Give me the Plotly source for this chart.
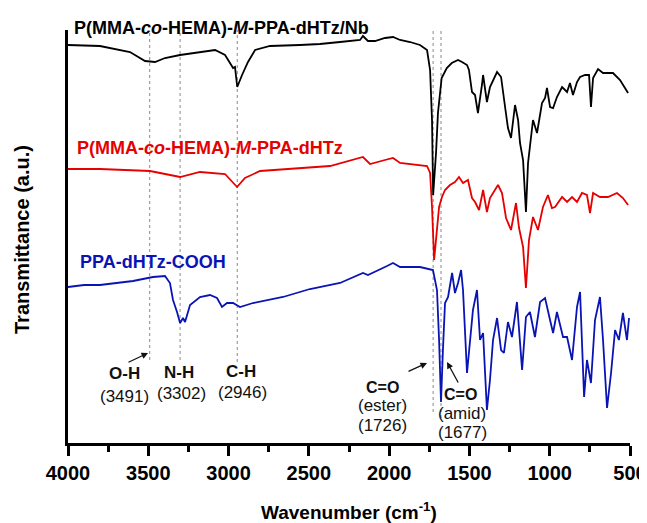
import plotly.graph_objects as go

# ---------------- data ----------------
black_wn = [4000, 3801, 3614, 3520, 3458, 3396, 3302, 3178, 3084, 3022, 2991, 2972, 2960, 2946,
            2916, 2879, 2835, 2742, 2555, 2431, 2306, 2181, 2163, 2132, 2088, 2026, 1976, 1932,
            1870, 1808, 1764, 1745, 1733, 1726, 1708, 1696, 1673, 1641, 1610, 1571, 1546, 1515,
            1503, 1484, 1465, 1447, 1422, 1415, 1391, 1372, 1328, 1303, 1278, 1260, 1241, 1216,
            1197, 1185, 1166, 1148, 1135, 1116, 1104, 1079, 1048, 1029, 1017, 998, 979, 955, 923,
            892, 874, 855, 830, 811, 780, 755, 743, 730, 699, 668, 606, 562, 512]
black_t = [398, 397, 391, 382, 381, 385, 388, 391, 393, 388, 380, 375, 376, 356,
           368, 381, 393, 397, 398, 399, 401, 403, 407, 402, 402, 405, 406, 403,
           401, 398, 393, 373, 323, 248, 290, 330, 365, 375, 380, 383, 381, 378,
           373, 351, 348, 330, 358, 368, 341, 356, 371, 366, 336, 315, 305, 338,
           323, 300, 283, 231, 280, 310, 323, 310, 340, 345, 355, 336, 335, 346, 356,
           351, 360, 348, 361, 366, 368, 368, 336, 365, 374, 370, 370, 363, 350]

red_wn = [4000, 3801, 3489, 3302, 3178, 3022, 2947, 2898, 2804, 2368, 2163, 2119, 2026, 1976,
          1932, 1764, 1745, 1733, 1720, 1702, 1689, 1671, 1652, 1621, 1590, 1565, 1540, 1509,
          1484, 1465, 1440, 1415, 1391, 1372, 1322, 1297, 1272, 1241, 1210, 1191, 1166, 1148,
          1129, 1104, 1073, 1042, 1011, 986, 967, 923, 892, 861, 830, 799, 768, 749, 730, 687,
          637, 581, 544, 512]
red_t = [274, 274, 272, 266, 271, 269, 256, 265, 272, 277, 286, 279, 283, 285,
         280, 277, 270, 236, 183, 210, 236, 246, 253, 258, 261, 266, 260, 263,
         245, 241, 233, 253, 231, 245, 258, 250, 225, 213, 240, 215, 196, 155,
         203, 226, 213, 236, 248, 235, 236, 246, 241, 246, 241, 250, 248, 230, 250, 246,
         246, 250, 245, 238]

blue_wn = [4000, 3900, 3801, 3700, 3595, 3471, 3396, 3365, 3346, 3321, 3302, 3284, 3271, 3240,
           3178, 3116, 3072, 3041, 3010, 2972, 2929, 2848, 2661, 2493, 2368, 2306, 2163, 2132,
           2013, 1976, 1932, 1808, 1727, 1702, 1689, 1677, 1665, 1652, 1633, 1608, 1590, 1571,
           1552, 1540, 1515, 1490, 1478, 1453, 1434, 1415, 1391, 1372, 1353, 1328, 1303, 1285,
           1260, 1235, 1204, 1172, 1148, 1123, 1092, 1060, 1029, 998, 979, 955, 917, 892, 861,
           830, 811, 786, 768, 743, 718, 687, 668, 643, 618, 593, 569, 544, 519, 506]
blue_t = [156, 158, 158, 160, 162, 166, 167, 160, 143, 131, 120, 125, 121, 138,
          146, 148, 145, 136, 140, 140, 136, 140, 146, 154, 158, 160, 170, 168,
          177, 180, 176, 176, 173, 153, 103, 41, 93, 140, 146, 170, 150, 160,
          173, 153, 70, 116, 133, 153, 103, 110, 33, 63, 103, 125, 93, 90,
          121, 106, 141, 73, 126, 131, 106, 141, 145, 123, 110, 131, 106, 106, 83,
          136, 151, 46, 83, 60, 123, 146, 103, 35, 70, 113, 103, 130, 103, 125]

band_wn = [3491, 3302, 2946, 1726, 1677]
band_top = [413, 413, 413, 413, 413]
band_bottom = [83, 83, 81, 31, 25]

x_ticks = [4000, 3500, 3000, 2500, 2000, 1500, 1000, 500]

series_names = ["P(MMA-<i>co</i>-HEMA)-<i>M</i>-PPA-dHTz/Nb",
                "P(MMA-<i>co</i>-HEMA)-<i>M</i>-PPA-dHTz",
                "PPA-dHTz-COOH"]
series_colors = ["#000000", "#e60000", "#0a14b4"]

# ---------------- figure ----------------
# the page body has an 8px margin, so the figure is drawn 8px in from the window edge
OFF = 8
W, H = 639, 515
L, T = 68 - OFF, 30 - OFF
R = W - (630 - OFF)
B = H - (443 - OFF)
PW, PH = W - L - R, H - T - B
FONT = "Arial, Liberation Sans, sans-serif"


def px(xp):  # window pixel -> paper fraction
    return (xp - OFF - L) / PW


def py(yp):
    return (H - B - (yp - OFF)) / PH


fig = go.Figure()

for wn, t, name, col in zip([black_wn, red_wn, blue_wn], [black_t, red_t, blue_t],
                            series_names, series_colors):
    fig.add_trace(go.Scatter(x=wn, y=t, mode="lines", name=name,
                             line=dict(color=col, width=1.8), showlegend=False))

shapes = []
for w, y0, y1 in zip(band_wn, band_bottom, band_top):
    shapes.append(dict(type="line", xref="x", yref="y", x0=w, x1=w, y0=y0, y1=y1,
                       line=dict(color="#888888", width=1, dash="dot"), layer="below"))

ann = []
# series labels
label_pos = [(72, 28), (75, 148), (78, 262)]
for name, col, (lx, ly) in zip(series_names, series_colors, label_pos):
    ann.append(dict(text="<b>" + name + "</b>", xref="paper", yref="paper",
                    x=px(lx), y=py(ly), xanchor="left", yanchor="middle", showarrow=False,
                    font=dict(family=FONT, size=18, color=col)))


def lab(text, x, y, bold=True, size=17):
    t = "<b>" + text + "</b>" if bold else text
    ann.append(dict(text=t, xref="paper", yref="paper", x=px(x), y=py(y),
                    xanchor="center", yanchor="middle", showarrow=False,
                    font=dict(family=FONT, size=size, color="#111111")))


lab("O-H", 124, 373)
lab("(3491)", 124, 396, bold=False)
lab("N-H", 179, 372)
lab("(3302)", 181, 393, bold=False)
lab("C-H", 241, 371)
lab("(2946)", 242, 392, bold=False)
lab("C=O", 382, 387, size=16)
lab("(ester)", 382, 405, bold=False)
lab("(1726)", 382, 425, bold=False)
lab("C=O", 460, 394, size=16)
lab("(amid)", 462, 413, bold=False)
lab("(1677)", 462, 432, bold=False)

# arrows
for (tx, ty), (hx, hy) in [((127, 363), (148, 353)), ((407, 372), (427, 363)),
                           ((459, 384), (447, 362))]:
    ann.append(dict(text="", xref="paper", yref="paper", x=px(hx), y=py(hy),
                    ax=tx - hx, ay=ty - hy, showarrow=True, arrowhead=2, arrowsize=1,
                    arrowwidth=1.3, arrowcolor="#111111"))

# axis titles
ann.append(dict(text="<b>Wavenumber (cm<sup>-1</sup>)</b>", xref="paper", yref="paper",
                x=px(349), y=py(511), xanchor="center", yanchor="middle", showarrow=False,
                font=dict(family=FONT, size=19, color="#000000")))
ann.append(dict(text="<b>Transmittance (a.u.)</b>", xref="paper", yref="paper",
                x=px(22), y=py(240), xanchor="center", yanchor="middle", showarrow=False,
                textangle=-90, font=dict(family=FONT, size=20, color="#000000")))

fig.update_layout(
    width=W, height=H,
    margin=dict(l=L, r=R, t=T, b=B, pad=0, autoexpand=False),
    paper_bgcolor="white", plot_bgcolor="white",
    shapes=shapes, annotations=ann,
    xaxis=dict(range=[4000, 500], tickvals=x_ticks,
               ticktext=["<b>%d</b>" % v for v in x_ticks],
               automargin=False,
               showgrid=False, zeroline=False, showline=True, linecolor="black", linewidth=3,
               ticks="outside", ticklen=10, tickwidth=2.5, tickcolor="black",
               ticklabelstandoff=0, ticklabeloverflow="allow",
               tickfont=dict(family=FONT, size=20, color="black"),
               minor=dict(tickvals=[3750, 3250, 2750, 2250, 1750, 1250, 750],
                          ticks="outside", ticklen=6, tickwidth=2.5, tickcolor="black"),
               fixedrange=True),
    yaxis=dict(range=[0, 413], showgrid=False, zeroline=False, showline=True,
               automargin=False,
               linecolor="black", linewidth=3, showticklabels=False, ticks="",
               fixedrange=True),
)

fig.write_html("out.html")
